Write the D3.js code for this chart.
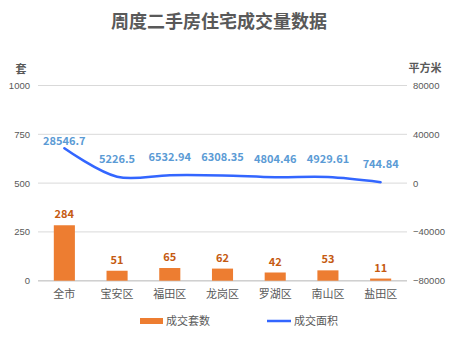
<!DOCTYPE html>
<html>
<head>
<meta charset="utf-8">
<script src="https://cdn.jsdelivr.net/npm/d3@7"></script>
<style>
  body { margin: 0; background: #fff; }
  text { font-family: "Noto Sans CJK SC", "Noto Sans", sans-serif; }
</style>
</head>
<body>
<div id="chart"></div>
<script>
// chart data
const districts = ['全市', '宝安区', '福田区', '龙岗区', '罗湖区', '南山区', '盐田区'];
const deals = [284, 51, 65, 62, 42, 53, 11];
const areas = [28546.7, 5226.5, 6532.94, 6308.35, 4804.46, 4929.61, 744.84];
const leftTicks = [0, 250, 500, 750, 1000];
const rightTicks = [-80000, -40000, 0, 40000, 80000];

const width = 458, height = 339;
const margin = { top: 85.5, right: 51, bottom: 58.3, left: 38 };
const grey = '#595959';

const svg = d3.select('#chart').append('svg')
  .attr('width', width)
  .attr('height', height);

const x = d3.scaleBand()
  .domain(districts)
  .range([margin.left, width - margin.right]);

const yLeft = d3.scaleLinear()
  .domain([0, 1000])
  .range([height - margin.bottom, margin.top]);

const yRight = d3.scaleLinear()
  .domain([-80000, 80000])
  .range([height - margin.bottom, margin.top]);

// title
svg.append('text')
  .attr('x', 219).attr('y', 28)
  .attr('text-anchor', 'middle')
  .attr('fill', grey)
  .style('font-size', '18px')
  .style('font-weight', 'bold')
  .text('周度二手房住宅成交量数据');

// unit labels
svg.append('text')
  .attr('x', 21).attr('y', 73)
  .attr('text-anchor', 'middle')
  .attr('fill', grey)
  .style('font-size', '11px').style('font-weight', 'bold')
  .text('套');
svg.append('text')
  .attr('x', 425).attr('y', 72)
  .attr('text-anchor', 'middle')
  .attr('fill', grey)
  .style('font-size', '11px').style('font-weight', 'bold')
  .text('平方米');

// gridlines
svg.append('g')
  .selectAll('line')
  .data(leftTicks)
  .join('line')
  .attr('x1', margin.left).attr('x2', width - margin.right)
  .attr('y1', d => yLeft(d)).attr('y2', d => yLeft(d))
  .attr('stroke', '#d9d9d9').attr('stroke-width', 1);

// left axis
const leftAxis = svg.append('g')
  .attr('transform', `translate(${margin.left},0)`)
  .call(d3.axisLeft(yLeft).tickValues(leftTicks).tickSize(0).tickPadding(8)
    .tickFormat(d3.format('d')));
leftAxis.select('.domain').remove();
leftAxis.selectAll('text').attr('fill', grey).style('font-size', '9.5px')
  .style('font-family', '"Liberation Sans", sans-serif');

// right axis
const rightAxis = svg.append('g')
  .attr('transform', `translate(${width - margin.right},0)`)
  .call(d3.axisRight(yRight).tickValues(rightTicks).tickSize(0).tickPadding(6)
    .tickFormat(d => d < 0 ? '\u2212' + Math.abs(d) : d));
rightAxis.select('.domain').remove();
rightAxis.selectAll('text').attr('fill', grey).style('font-size', '9.5px')
  .style('font-family', '"Liberation Sans", sans-serif');

// bottom axis line
svg.append('line')
  .attr('x1', margin.left).attr('x2', width - margin.right)
  .attr('y1', yLeft(0)).attr('y2', yLeft(0))
  .attr('stroke', '#d0d0d0').attr('stroke-width', 1.5);

// category labels
const bottomAxis = svg.append('g')
  .attr('transform', `translate(0,${yLeft(0)})`)
  .call(d3.axisBottom(x).tickSize(0).tickPadding(10));
bottomAxis.select('.domain').remove();
bottomAxis.selectAll('text').attr('fill', grey).style('font-size', '11px');

// bars
const barW = x.bandwidth() * 0.4;
svg.append('g')
  .selectAll('rect')
  .data(deals)
  .join('rect')
  .attr('x', (d, i) => x(districts[i]) + (x.bandwidth() - barW) / 2)
  .attr('y', d => yLeft(d))
  .attr('width', barW)
  .attr('height', d => yLeft(0) - yLeft(d))
  .attr('fill', '#ED7D31');

svg.append('g')
  .selectAll('text')
  .data(deals)
  .join('text')
  .attr('x', (d, i) => x(districts[i]) + x.bandwidth() / 2)
  .attr('y', d => yLeft(d) - 7)
  .attr('text-anchor', 'middle')
  .attr('fill', '#C55A11')
  .style('font-size', '11px').style('font-weight', 'bold')
  .text(d => d);

// line
const line = d3.line()
  .x((d, i) => x(districts[i]) + x.bandwidth() / 2)
  .y(d => yRight(d))
  .curve(d3.curveCatmullRom.alpha(0.5));

svg.append('path')
  .datum(areas)
  .attr('d', line)
  .attr('fill', 'none')
  .attr('stroke', '#3366FF')
  .attr('stroke-width', 2.5)
  .attr('stroke-linecap', 'round');

svg.append('g')
  .selectAll('text')
  .data(areas)
  .join('text')
  .attr('x', (d, i) => x(districts[i]) + x.bandwidth() / 2)
  .attr('y', (d, i) => yRight(d) - (i === 0 ? 3 : 14))
  .attr('text-anchor', 'middle')
  .attr('fill', '#5B9BD5')
  .style('font-size', '11px').style('font-weight', 'bold')
  .text(d => d);

// legend
const legend = svg.append('g').attr('transform', 'translate(0,321)');
legend.append('rect')
  .attr('x', 140).attr('y', -3).attr('width', 23).attr('height', 6)
  .attr('fill', '#ED7D31');
legend.append('text')
  .attr('x', 166).attr('y', 4)
  .attr('fill', grey).style('font-size', '11px')
  .text('成交套数');
legend.append('line')
  .attr('x1', 267).attr('x2', 291).attr('y1', 0).attr('y2', 0)
  .attr('stroke', '#3366FF').attr('stroke-width', 2.5);
legend.append('text')
  .attr('x', 294).attr('y', 4)
  .attr('fill', grey).style('font-size', '11px')
  .text('成交面积');
</script>
</body>
</html>
